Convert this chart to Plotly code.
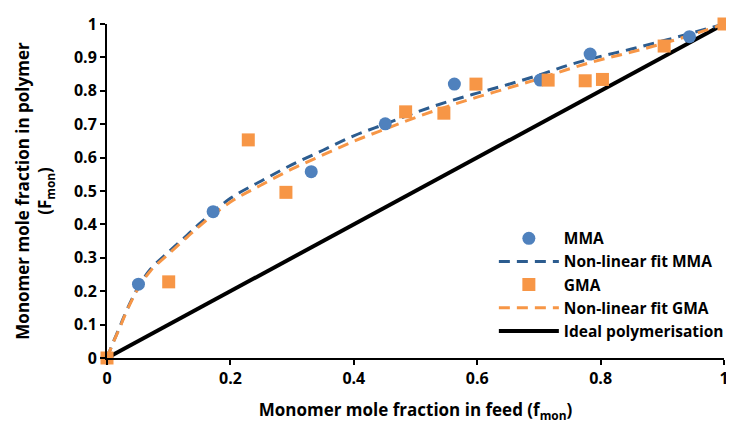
import plotly.graph_objects as go

# Experimental data
mma_f = [0.0, 0.051, 0.172, 0.331, 0.451, 0.563, 0.702, 0.783, 0.944]
mma_F = [0.0, 0.221, 0.438, 0.558, 0.701, 0.820, 0.832, 0.910, 0.962]

gma_f = [0.0, 0.100, 0.229, 0.290, 0.484, 0.546, 0.598, 0.715, 0.775, 0.803, 0.903, 1.0]
gma_F = [0.0, 0.228, 0.653, 0.496, 0.737, 0.733, 0.820, 0.832, 0.830, 0.834, 0.934, 1.0]

# Non-linear fits
fit_f = [0, 0.01, 0.02, 0.03, 0.04, 0.05, 0.07, 0.1, 0.13, 0.15, 0.2, 0.25, 0.3, 0.35,
         0.4, 0.45, 0.5, 0.55, 0.6, 0.65, 0.7, 0.75, 0.8, 0.85, 0.9, 0.95, 1.0]
fit_mma = [0, 0.047, 0.09, 0.135, 0.175, 0.21, 0.265, 0.318, 0.368, 0.402, 0.478, 0.53,
           0.579, 0.622, 0.665, 0.70, 0.735, 0.766, 0.793, 0.819, 0.847, 0.878, 0.903,
           0.925, 0.949, 0.974, 1.0]
fit_gma = [0, 0.046, 0.088, 0.132, 0.172, 0.206, 0.26, 0.312, 0.362, 0.395, 0.467, 0.518,
           0.566, 0.608, 0.649, 0.685, 0.72, 0.752, 0.781, 0.808, 0.836, 0.866, 0.893,
           0.916, 0.941, 0.969, 1.0]

ideal_f = [0, 1]
ideal_F = [0, 1]

x_ticks = [0, 0.2, 0.4, 0.6, 0.8, 1]
x_labels = ["0", "0.2", "0.4", "0.6", "0.8", "1"]
y_ticks = [0, 0.1, 0.2, 0.3, 0.4, 0.5, 0.6, 0.7, 0.8, 0.9, 1]
y_labels = ["0", "0.1", "0.2", "0.3", "0.4", "0.5", "0.6", "0.7", "0.8", "0.9", "1"]

FONT = "Open Sans"
BLUE = "#4F81BD"
DBLUE = "#2C5C8F"
ORANGE = "#F79646"

fig = go.Figure()
fig.add_trace(go.Scatter(x=ideal_f, y=ideal_F, mode="lines", name="Ideal polymerisation",
                         line=dict(color="black", width=4), legendrank=5))
fig.add_trace(go.Scatter(x=fit_f, y=fit_mma, mode="lines", name="Non-linear fit MMA",
                         line=dict(color=DBLUE, width=3, dash="11px,7px", shape="spline"),
                         legendrank=2))
fig.add_trace(go.Scatter(x=fit_f, y=fit_gma, mode="lines", name="Non-linear fit GMA",
                         line=dict(color=ORANGE, width=3, dash="11px,7px", shape="spline"),
                         legendrank=4))
fig.add_trace(go.Scatter(x=mma_f, y=mma_F, mode="markers", name="MMA", cliponaxis=False,
                         marker=dict(symbol="circle", size=13, color=BLUE), legendrank=1))
fig.add_trace(go.Scatter(x=gma_f, y=gma_F, mode="markers", name="GMA", cliponaxis=False,
                         marker=dict(symbol="square", size=13, color=ORANGE), legendrank=3))

fig.update_layout(
    width=750, height=419,
    margin=dict(l=99, r=34, t=16, b=69, autoexpand=False),
    paper_bgcolor="white", plot_bgcolor="white",
    font=dict(family=FONT, size=15, color="black"),
    legend=dict(x=0.627, y=0.408, xanchor="left", yanchor="top",
                bgcolor="rgba(0,0,0,0)", itemwidth=60, tracegroupgap=0,
                font=dict(family=FONT, size=15.5, color="black", weight="bold")),
    xaxis=dict(range=[0, 1], tickvals=x_ticks, ticktext=x_labels, automargin=False,
               showgrid=False, zeroline=False, showline=True, linecolor="black", linewidth=2,
               ticks="outside", ticklen=5, tickwidth=2, tickcolor="black",
               tickfont=dict(family=FONT, size=16, weight="bold"),
               title=dict(text="Monomer mole fraction in feed (f<sub>mon</sub>)",
                          font=dict(family=FONT, size=17, weight="bold"), standoff=16)),
    yaxis=dict(range=[0, 1], tickvals=y_ticks, ticktext=y_labels, automargin=False,
               showgrid=False, zeroline=False, showline=True, linecolor="black", linewidth=2,
               ticks="outside", ticklen=5, tickwidth=2, tickcolor="black",
               tickfont=dict(family=FONT, size=16, weight="bold"),
               title=dict(text="Monomer mole fraction in polymer<br>(F<sub>mon</sub>)",
                          font=dict(family=FONT, size=17, weight="bold"), standoff=18)),
)

fig.write_html("out.html")
